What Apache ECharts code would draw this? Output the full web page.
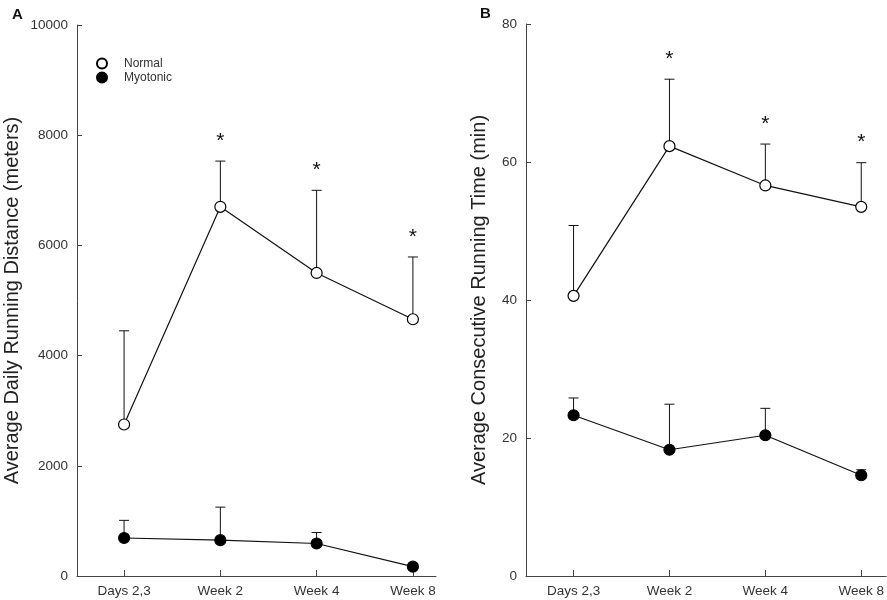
<!DOCTYPE html>
<html>
<head>
<meta charset="utf-8">
<script src="https://cdn.jsdelivr.net/npm/echarts@6/dist/echarts.min.js"></script>
<style>
  html, body { margin: 0; padding: 0; background: #fff; }
  #chart { width: 887px; height: 600px; }
</style>
</head>
<body>
<div id="chart"></div>
<script>
// Data
const categories = ["Days 2,3", "Week 2", "Week 4", "Week 8"];
const distanceNormal = [2750, 6700, 5500, 4660];
const distanceNormalSd = [1700, 830, 1500, 1130];
const distanceMyotonic = [690, 650, 590, 170];
const distanceMyotonicSd = [320, 600, 200, 30];
const timeNormal = [40.6, 62.3, 56.6, 53.5];
const timeNormalSd = [10.2, 9.7, 6.0, 6.4];
const timeMyotonic = [23.3, 18.3, 20.4, 14.6];
const timeMyotonicSd = [2.5, 6.6, 3.9, 0.8];
const significant = [false, true, true, true];
const distanceTicks = [0, 2000, 4000, 6000, 8000, 10000];
const timeTicks = [0, 20, 40, 60, 80];

const FONT = "Arial, 'Liberation Sans', sans-serif";
const AXIS_COLOR = "#444";
const LABEL_COLOR = "#333";

const chart = echarts.init(document.getElementById("chart"));

function points(values) {
  return values.map((v, i) => [i, v]);
}

function errorData(values, sds, flags) {
  return values.map((v, i) => [i, v, sds[i], flags ? (flags[i] ? 1 : 0) : 0]);
}

// Draws an upward error bar with a cap, and an asterisk when significant
function renderErrorBar(params, api) {
  const x = api.value(0);
  const mean = api.value(1);
  const sd = api.value(2);
  const star = api.value(3);
  const base = api.coord([x, mean]);
  const top = api.coord([x, mean + sd]);
  const children = [
    {
      type: "line",
      shape: { x1: base[0], y1: base[1], x2: top[0], y2: top[1] },
      style: { stroke: "#111", lineWidth: 1 },
    },
    {
      type: "line",
      shape: { x1: top[0] - 5, y1: top[1], x2: top[0] + 5, y2: top[1] },
      style: { stroke: "#111", lineWidth: 1 },
    },
  ];
  if (star) {
    children.push({
      type: "text",
      style: {
        text: "*",
        x: top[0],
        y: top[1] - 20,
        align: "center",
        verticalAlign: "middle",
        font: "21px " + FONT,
        fill: "#111",
      },
    });
  }
  return { type: "group", children: children };
}

function xAxis(gridIndex, min, max) {
  return {
    type: "value",
    gridIndex: gridIndex,
    min: min,
    max: max,
    axisLine: { onZero: false, lineStyle: { color: AXIS_COLOR, width: 1 } },
    axisTick: {
      inside: true,
      length: 6,
      customValues: [0, 1, 2, 3],
      lineStyle: { color: AXIS_COLOR },
    },
    axisLabel: {
      customValues: [0, 1, 2, 3],
      formatter: (v) => categories[v],
      color: LABEL_COLOR,
      fontFamily: FONT,
      fontSize: 13.5,
      margin: 8,
    },
    splitLine: { show: false },
  };
}

function yAxis(gridIndex, ticks, name, nameGap) {
  return {
    type: "value",
    gridIndex: gridIndex,
    min: ticks[0],
    max: ticks[ticks.length - 1],
    interval: ticks[1] - ticks[0],
    name: name,
    nameLocation: "middle",
    nameGap: nameGap,
    nameTextStyle: { color: "#222", fontFamily: FONT, fontSize: 20 },
    axisLine: { show: true, onZero: false, lineStyle: { color: AXIS_COLOR, width: 1 } },
    axisTick: { show: true, inside: true, length: 5, lineStyle: { color: AXIS_COLOR } },
    axisLabel: {
      color: LABEL_COLOR,
      fontFamily: FONT,
      fontSize: 13.5,
      margin: 9,
      formatter: (v) => String(v),
    },
    splitLine: { show: false },
  };
}

function lineSeries(name, axisIndex, values, filled) {
  return {
    name: name,
    type: "line",
    xAxisIndex: axisIndex,
    yAxisIndex: axisIndex,
    data: points(values),
    symbol: "circle",
    symbolSize: 11,
    showAllSymbol: true,
    z: 5,
    lineStyle: { color: "#111", width: 1.2 },
    itemStyle: {
      color: filled ? "#000" : "#fff",
      borderColor: "#000",
      borderWidth: 1.2,
    },
  };
}

function errorSeries(axisIndex, values, sds, flags) {
  return {
    type: "custom",
    xAxisIndex: axisIndex,
    yAxisIndex: axisIndex,
    data: errorData(values, sds, flags),
    renderItem: renderErrorBar,
    z: 2,
    silent: true,
  };
}

const option = {
  animation: false,
  backgroundColor: "#fff",
  title: [
    { text: "A", left: 7, top: 2, textStyle: { fontFamily: FONT, fontSize: 15, fontWeight: "bold", color: "#111" } },
    { text: "B", left: 475, top: 1, textStyle: { fontFamily: FONT, fontSize: 15, fontWeight: "bold", color: "#111" } },
  ],
  legend: {
    orient: "vertical",
    left: 91,
    top: 52,
    itemWidth: 34,
    itemHeight: 10,
    itemGap: 1,
    icon: "circle",
    textStyle: { color: LABEL_COLOR, fontFamily: FONT, fontSize: 12, lineHeight: 13 },
    data: ["Normal", "Myotonic"],
  },
  grid: [
    { left: 77, top: 25, width: 359, bottom: 24 },
    { left: 526, top: 24, right: 0, bottom: 24 },
  ],
  xAxis: [xAxis(0, -0.489, 3.24), xAxis(1, -0.496, 3.26)],
  yAxis: [
    yAxis(0, distanceTicks, "Average Daily Running Distance (meters)", 55),
    yAxis(1, timeTicks, "Average Consecutive Running Time (min)", 37),
  ],
  series: [
    errorSeries(0, distanceNormal, distanceNormalSd, significant),
    errorSeries(0, distanceMyotonic, distanceMyotonicSd, null),
    lineSeries("Normal", 0, distanceNormal, false),
    lineSeries("Myotonic", 0, distanceMyotonic, true),
    errorSeries(1, timeNormal, timeNormalSd, significant),
    errorSeries(1, timeMyotonic, timeMyotonicSd, null),
    lineSeries("Normal", 1, timeNormal, false),
    lineSeries("Myotonic", 1, timeMyotonic, true),
  ],
};

chart.setOption(option);
</script>
</body>
</html>
